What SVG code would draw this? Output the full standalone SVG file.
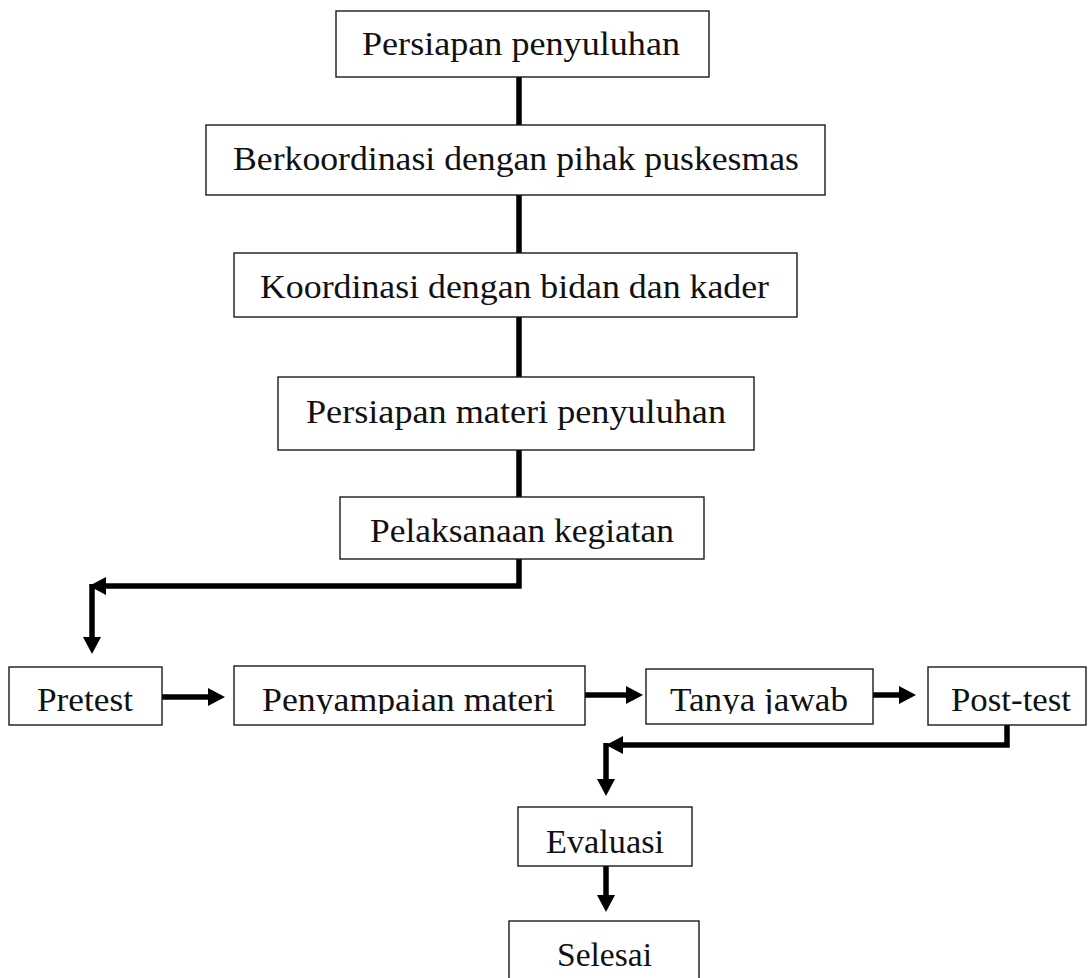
<svg xmlns="http://www.w3.org/2000/svg" width="1089" height="978" viewBox="0 0 1089 978">
<style>
  .box { fill: #ffffff; stroke: #1a1a1a; stroke-width: 1.4; }
  .lbl { font-family: "Liberation Serif", "Times New Roman", serif; font-size: 34px; fill: #111111; }
  .con { fill: none; stroke: #000000; stroke-width: 5.5; stroke-linejoin: miter; stroke-linecap: butt; }
</style>
<defs>
  <marker id="ah" viewBox="0 -9 17 18" refX="0" refY="0" markerWidth="17" markerHeight="18" markerUnits="userSpaceOnUse" orient="auto">
    <path d="M0,-9 L17,0 L0,9 Z" fill="#000000"/>
  </marker>
  <clipPath id="clipPeny"><rect x="234" y="666" width="351" height="48"/></clipPath>
  <clipPath id="clipTanya"><rect x="646" y="669" width="227" height="45"/></clipPath>
</defs>
<rect width="1089" height="978" fill="#ffffff"/>

<g id="connectors">
  <path class="con" d="M519,77 V125"/>
  <path class="con" d="M519,195 V253"/>
  <path class="con" d="M519,317 V377"/>
  <path class="con" d="M519,450 V497"/>
  <path class="con" d="M519,559 V586 H106" marker-end="url(#ah)"/>
  <path class="con" d="M92,584 V637" marker-end="url(#ah)"/>
  <path class="con" d="M162,697 H208" marker-end="url(#ah)"/>
  <path class="con" d="M585,695 H626" marker-end="url(#ah)"/>
  <path class="con" d="M873,695 H899" marker-end="url(#ah)"/>
  <path class="con" d="M1007,725 V745 H623" marker-end="url(#ah)"/>
  <path class="con" d="M606,743 V779" marker-end="url(#ah)"/>
  <path class="con" d="M606,866 V895" marker-end="url(#ah)"/>
</g>

<g id="n1">
  <rect class="box" x="336" y="11" width="373" height="66"/>
  <text class="lbl" x="362" y="55" textLength="318" lengthAdjust="spacingAndGlyphs">Persiapan penyuluhan</text>
</g>
<g id="n2">
  <rect class="box" x="206" y="125" width="619" height="70"/>
  <text class="lbl" x="233" y="170" textLength="566" lengthAdjust="spacingAndGlyphs">Berkoordinasi dengan pihak puskesmas</text>
</g>
<g id="n3">
  <rect class="box" x="234" y="253" width="563" height="64"/>
  <text class="lbl" x="260" y="298" textLength="509" lengthAdjust="spacingAndGlyphs">Koordinasi dengan bidan dan kader</text>
</g>
<g id="n4">
  <rect class="box" x="278" y="377" width="476" height="73"/>
  <text class="lbl" x="306" y="423" textLength="420" lengthAdjust="spacingAndGlyphs">Persiapan materi penyuluhan</text>
</g>
<g id="n5">
  <rect class="box" x="340" y="497" width="364" height="62"/>
  <text class="lbl" x="370" y="542" textLength="304" lengthAdjust="spacingAndGlyphs">Pelaksanaan kegiatan</text>
</g>
<g id="n6">
  <rect class="box" x="9" y="667" width="153" height="58"/>
  <text class="lbl" x="37" y="711" textLength="96" lengthAdjust="spacingAndGlyphs">Pretest</text>
</g>
<g id="n7">
  <rect class="box" x="234" y="666" width="351" height="59"/>
  <text class="lbl" x="262" y="711" textLength="293" lengthAdjust="spacingAndGlyphs" clip-path="url(#clipPeny)">Penyampaian materi</text>
</g>
<g id="n8">
  <rect class="box" x="646" y="669" width="227" height="55"/>
  <text class="lbl" x="670" y="711" textLength="178" lengthAdjust="spacingAndGlyphs" clip-path="url(#clipTanya)">Tanya jawab</text>
</g>
<g id="n9">
  <rect class="box" x="928" y="667" width="158" height="58"/>
  <text class="lbl" x="951" y="711" textLength="120" lengthAdjust="spacingAndGlyphs">Post-test</text>
</g>
<g id="n10">
  <rect class="box" x="518" y="807" width="174" height="59"/>
  <text class="lbl" x="546" y="853" textLength="118" lengthAdjust="spacingAndGlyphs">Evaluasi</text>
</g>
<g id="n11">
  <rect class="box" x="509" y="921" width="190" height="70"/>
  <text class="lbl" x="557" y="966" textLength="95" lengthAdjust="spacingAndGlyphs">Selesai</text>
</g>
</svg>
